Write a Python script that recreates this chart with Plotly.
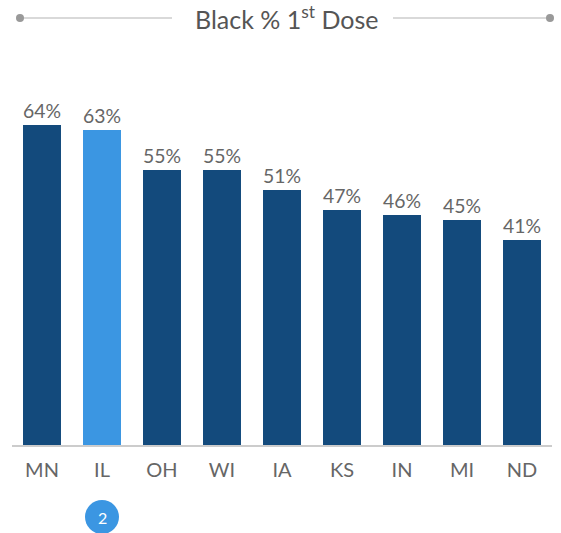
import plotly.graph_objects as go

states = ["MN", "IL", "OH", "WI", "IA", "KS", "IN", "MI", "ND"]
values = [64, 63, 55, 55, 51, 47, 46, 45, 41]
labels = ["64%", "63%", "55%", "55%", "51%", "47%", "46%", "45%", "41%"]
highlight = "IL"
badge_text = "2"
title_text = "Black % 1<sup>st</sup> Dose"

dark = "#134a7c"
light = "#3b96e2"
colors = [light if s == highlight else dark for s in states]

W, H = 561, 533
L, R, T, B = 12, 9, 60, 88
plot_w = W - L - R
plot_h = H - T - B

def px_x(x):
    return (x - L) / plot_w

def px_y(y):
    return (H - B - y) / plot_h

fig = go.Figure(go.Bar(
    x=states, y=values, marker_color=colors, marker_line_width=0,
    text=labels, textposition="outside", cliponaxis=False,
    textfont=dict(size=20, color="#666666"),
))

shapes = []
ty = px_y(18)
for x0, x1 in [(20, 172), (393, 550)]:
    shapes.append(dict(type="line", xref="paper", yref="paper", x0=px_x(x0), x1=px_x(x1),
                       y0=ty, y1=ty, line=dict(color="#cccccc", width=1.5)))
for cx in [20, 550]:
    shapes.append(dict(type="circle", xref="paper", yref="paper", xsizemode="pixel", ysizemode="pixel",
                       xanchor=px_x(cx), yanchor=ty, x0=-4, x1=4, y0=-4, y1=4,
                       fillcolor="#999999", line=dict(width=0)))
by = px_y(517)
shapes.append(dict(type="circle", xref="x", yref="paper", xsizemode="pixel", ysizemode="pixel",
                   xanchor=states.index(highlight), yanchor=by, x0=-17, x1=17, y0=-17, y1=17,
                   fillcolor=light, line=dict(width=0)))

annotations = [
    dict(text=title_text, xref="paper", yref="paper", x=px_x(287), y=ty, showarrow=False,
         font=dict(size=25, color="#555555"), xanchor="center", yanchor="middle"),
    dict(text=badge_text, xref="x", yref="paper", x=highlight, y=by, showarrow=False,
         font=dict(size=16, color="white"), xanchor="center", yanchor="middle"),
]

fig.update_layout(
    width=W, height=H, margin=dict(l=L, r=R, t=T, b=B),
    paper_bgcolor="white", plot_bgcolor="white",
    font=dict(family="Lato, sans-serif"),
    bargap=0.367, showlegend=False,
    shapes=shapes, annotations=annotations,
    xaxis=dict(showline=True, linecolor="#cccccc", linewidth=1.5, ticks="",
               tickfont=dict(size=20, color="#666666"), showgrid=False,
               ticklabelstandoff=6),
    yaxis=dict(range=[0, 77], visible=False, showgrid=False, zeroline=False),
)

fig.write_html("out.html")
